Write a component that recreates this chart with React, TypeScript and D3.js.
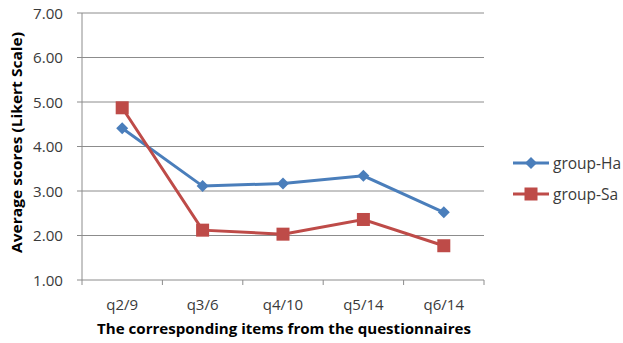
import React from "react";
import * as d3 from "d3";

const categories = ["q2/9", "q3/6", "q4/10", "q5/14", "q6/14"];
const groupHa = [4.41, 3.11, 3.17, 3.34, 2.52];
const groupSa = [4.87, 2.12, 2.03, 2.36, 1.77];
const yTicks = [1, 2, 3, 4, 5, 6, 7];
const seriesNames = ["group-Ha", "group-Sa"];

const W = 623;
const H = 343;
const left = 82;
const right = 484;
const top = 13;
const bottom = 280;

const BLUE = "#4A7EBB";
const RED = "#BE4B48";
const FONT = "'Open Sans', 'Noto Sans', sans-serif";

const SQ = 13; // square marker side
const DR = 6; // diamond marker half-diagonal

export default function App() {
  const x = d3.scaleBand<string>().domain(categories).range([left, right]);
  const y = d3.scaleLinear().domain([1, 7]).range([bottom, top]);
  const cx = (c: string) => (x(c) ?? 0) + x.bandwidth() / 2;

  const line = d3
    .line<number>()
    .x((_, i) => cx(categories[i]))
    .y((v) => y(v));

  const diamond = (px: number, py: number, r: number) =>
    `M${px},${py - r}L${px + r},${py}L${px},${py + r}L${px - r},${py}Z`;

  const tickXs = [...categories.map((c) => x(c) ?? 0), right];

  return (
    <svg
      width={W}
      height={H}
      style={{ position: "absolute", left: 0, top: 0, background: "#fff" }}
      fontFamily={FONT}
    >
      {/* horizontal gridlines */}
      {yTicks.map((t) => (
        <line key={t} x1={left} x2={right} y1={y(t)} y2={y(t)} stroke="#8c8c8c" strokeWidth={1} />
      ))}
      {/* y axis */}
      <line x1={left} x2={left} y1={top} y2={bottom} stroke="#8c8c8c" />
      {yTicks.map((t) => (
        <g key={"yt" + t}>
          <line x1={left - 5} x2={left} y1={y(t)} y2={y(t)} stroke="#8c8c8c" />
          <text
            x={left - 19}
            y={y(t) + 5.5}
            textAnchor="end"
            fontSize={15}
            fill="#3a3a3a"
            textLength={30}
            lengthAdjust="spacingAndGlyphs"
          >
            {t.toFixed(2)}
          </text>
        </g>
      ))}
      {/* x axis ticks */}
      {tickXs.map((tx, i) => (
        <line key={"xt" + i} x1={tx} x2={tx} y1={bottom} y2={bottom + 5} stroke="#8c8c8c" />
      ))}
      {categories.map((c) => (
        <text key={c} x={cx(c)} y={310} textAnchor="middle" fontSize={15} fill="#3a3a3a">
          {c}
        </text>
      ))}
      <text
        x={97}
        y={334}
        fontSize={14}
        fontWeight="bold"
        fill="#000"
        textLength={374}
        lengthAdjust="spacingAndGlyphs"
      >
        The corresponding items from the questionnaires
      </text>
      <text
        transform={`translate(22,253) rotate(-90)`}
        fontSize={14}
        fontWeight="bold"
        fill="#000"
        textLength={221}
        lengthAdjust="spacingAndGlyphs"
      >
        Average scores (Likert Scale)
      </text>

      {/* series */}
      <path d={line(groupHa) ?? ""} fill="none" stroke={BLUE} strokeWidth={3} />
      <path d={line(groupSa) ?? ""} fill="none" stroke={RED} strokeWidth={3} />
      {groupHa.map((v, i) => (
        <path key={"ha" + i} d={diamond(cx(categories[i]), y(v), DR)} fill={BLUE} />
      ))}
      {groupSa.map((v, i) => (
        <rect
          key={"sa" + i}
          x={cx(categories[i]) - SQ / 2}
          y={y(v) - SQ / 2}
          width={SQ}
          height={SQ}
          fill={RED}
        />
      ))}

      {/* legend */}
      {seriesNames.map((name, i) => {
        const ly = 163 + i * 31;
        const color = i === 0 ? BLUE : RED;
        return (
          <g key={name}>
            <line x1={513} x2={549} y1={ly} y2={ly} stroke={color} strokeWidth={3} />
            {i === 0 ? (
              <path d={diamond(531, ly, DR)} fill={color} />
            ) : (
              <rect x={531 - SQ / 2} y={ly - SQ / 2} width={SQ} height={SQ} fill={color} />
            )}
            <text x={553} y={ly + 5.5} fontSize={15.5} fill="#3a3a3a">
              {name}
            </text>
          </g>
        );
      })}
    </svg>
  );
}
